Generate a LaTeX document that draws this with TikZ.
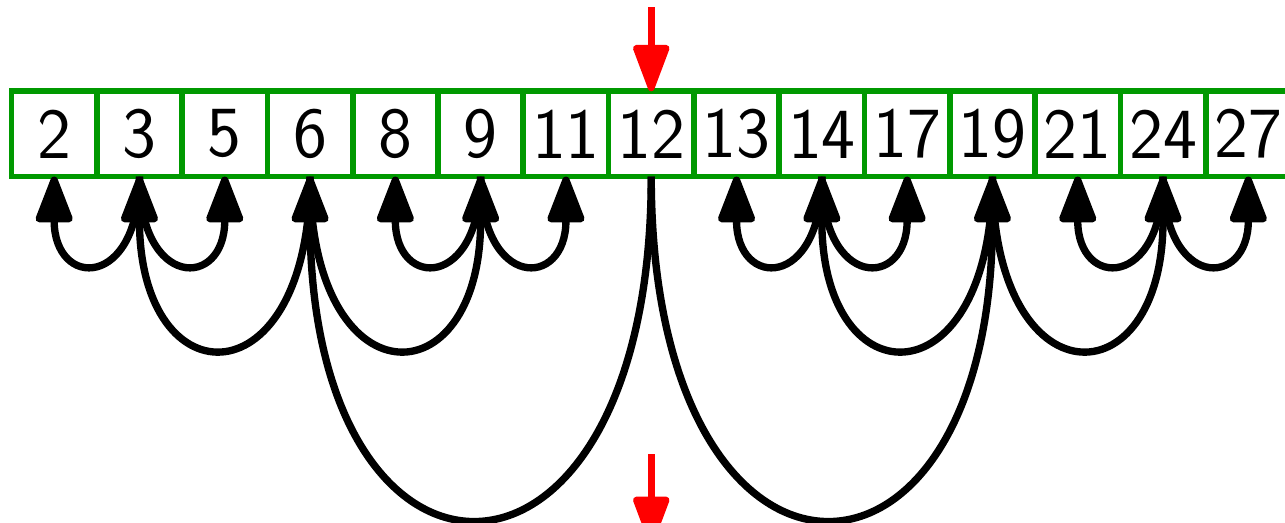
\documentclass[tikz,border=0pt]{standalone}
\usetikzlibrary{arrows.meta}
\definecolor{boxgreen}{HTML}{009900}
\definecolor{arrred}{HTML}{FF0000}
\begin{document}
\begin{tikzpicture}[
  cell/.style={draw=boxgreen, line width=1.9pt, minimum width=1cm, minimum height=1cm,
    inner sep=0pt, outer sep=0pt, font=\sffamily\fontsize{24}{28}\selectfont},
  link/.style={line width=2.45pt, -{Triangle[round,length=0.62cm,width=0.45cm]},
    out=-90, in=-90, looseness=3.4},
  redarrow/.style={arrred, line width=2.2pt, -{Triangle[round,length=0.62cm,width=0.44cm]}}
]
\useasboundingbox (0,0) rectangle (15.065,6.12);
\clip (0,0) rectangle (15.065,6.12);
\foreach \v [count=\i from 0] in {2,3,5,6,8,9,11,12,13,14,17,19,21,24,27}
  \node[cell] (c\v) at (0.635+\i,4.55) {\v};
\foreach \p/\c in {3/2,3/5,6/3,6/9,9/8,9/11,12/6,12/19,14/13,14/17,19/14,19/24,24/21,24/27}
  \draw[link] (c\p.south) to (c\c.south);
\coordinate (topstart) at (7.635,6.037);
\coordinate (botstart) at (7.635,0.797);
\coordinate (botend) at (7.635,-0.246);
\draw[redarrow] (topstart) -- (c12.north);
\draw[redarrow] (botstart) -- (botend);
\end{tikzpicture}
\end{document}
